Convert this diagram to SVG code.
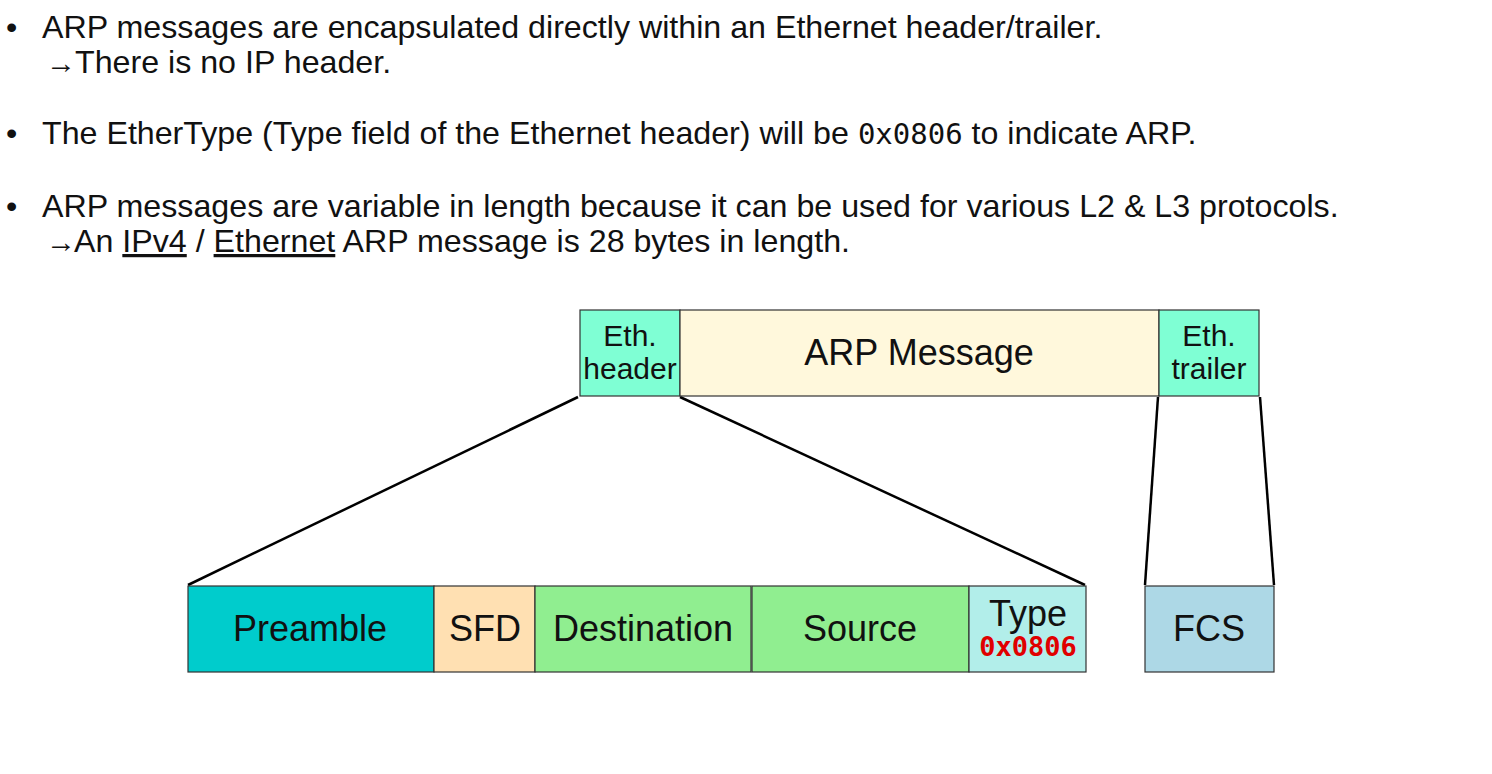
<svg xmlns="http://www.w3.org/2000/svg" width="1492" height="774" viewBox="0 0 1492 774">
<style>
.t{font-family:"Liberation Sans",Arial,sans-serif;fill:#111;}
.b{font-size:32.2px;}
.m{font-family:"DejaVu Sans Mono","Liberation Mono",monospace;}
.box{stroke:#333;stroke-width:1.2;}
.lab{font-size:36px;text-anchor:middle;}
.sm{font-size:30px;text-anchor:middle;}
.con{stroke:#000;stroke-width:2.5;fill:none;}
</style>
<rect width="1492" height="774" fill="#fff"/>
<g id="text">
<text class="t b" x="6" y="38">•</text>
<text class="t b" x="42" y="38">ARP messages are encapsulated directly within an Ethernet header/trailer.</text>
<text class="t b" x="46" y="73"><tspan font-size="30">→</tspan><tspan x="75">There is no IP header.</tspan></text>
<text class="t b" x="6" y="144">•</text>
<text class="t b" x="42" y="144">The EtherType (Type field of the Ethernet header) will be <tspan class="m" font-size="29">0x0806</tspan> to indicate ARP.</text>
<text class="t b" x="6" y="217">•</text>
<text class="t b" x="42" y="217">ARP messages are variable in length because it can be used for various L2 &amp; L3 protocols.</text>
<text class="t b" x="46" y="252"><tspan font-size="30">→</tspan><tspan x="74">An </tspan><tspan text-decoration="underline">IPv4</tspan> / <tspan text-decoration="underline">Ethernet</tspan> ARP message is 28 bytes in length.</text>
</g>
<g id="connectors">
<line class="con" x1="578" y1="397" x2="188" y2="585"/>
<line class="con" x1="680" y1="397" x2="1085" y2="585"/>
<line class="con" x1="1158" y1="397" x2="1145" y2="585"/>
<line class="con" x1="1260" y1="397" x2="1274" y2="585"/>
</g>
<g id="eth-header">
<rect class="box" x="580" y="310" width="100" height="86" fill="#7fffd4"/>
<text class="t sm" x="630" y="346">Eth.</text>
<text class="t sm" x="630" y="379">header</text>
</g>
<g id="arp-message">
<rect class="box" x="680" y="310" width="479" height="86" fill="#fff8dc"/>
<text class="t lab" x="919" y="365">ARP Message</text>
</g>
<g id="eth-trailer">
<rect class="box" x="1159" y="310" width="100" height="86" fill="#7fffd4"/>
<text class="t sm" x="1209" y="346">Eth.</text>
<text class="t sm" x="1209" y="379">trailer</text>
</g>
<g id="preamble">
<rect class="box" x="188" y="586" width="246" height="86" fill="#00cccc"/>
<text class="t lab" x="310" y="641">Preamble</text>
</g>
<g id="sfd">
<rect class="box" x="434" y="586" width="101" height="86" fill="#ffe0b2"/>
<text class="t lab" x="485" y="641">SFD</text>
</g>
<g id="destination">
<rect class="box" x="535" y="586" width="216" height="86" fill="#90ee90"/>
<text class="t lab" x="643" y="641">Destination</text>
</g>
<g id="source">
<rect class="box" x="752" y="586" width="217" height="86" fill="#90ee90"/>
<text class="t lab" x="860" y="641">Source</text>
</g>
<g id="type">
<rect class="box" x="969" y="586" width="117" height="86" fill="#b2eeea"/>
<text class="t lab" x="1028" y="626" font-size="34">Type</text>
<text class="m" x="1028" y="656" font-size="27" font-weight="bold" fill="#e00000" text-anchor="middle">0x0806</text>
</g>
<g id="fcs">
<rect class="box" x="1145" y="586" width="129" height="86" fill="#add8e6"/>
<text class="t lab" x="1209" y="641">FCS</text>
</g>
</svg>
